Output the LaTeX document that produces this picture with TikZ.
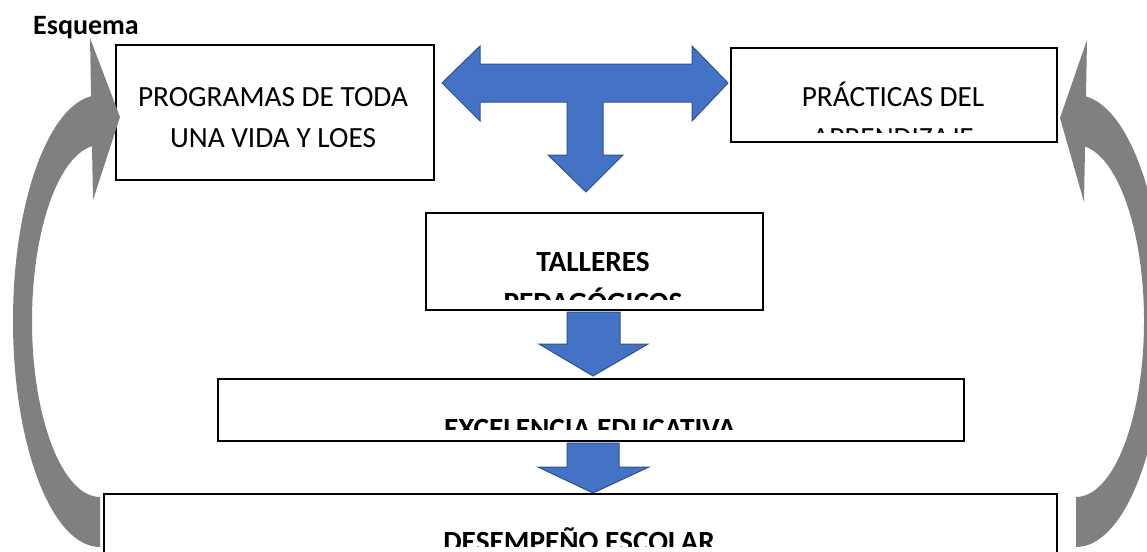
\documentclass[tikz,border=0pt]{standalone}
\usepackage{fontspec}
\setmainfont{Carlito}
\definecolor{arrowblue}{HTML}{4472C4}
\definecolor{arrowedge}{HTML}{2F528F}
\definecolor{arrowgray}{HTML}{808080}
\begin{document}
\begin{tikzpicture}[x=1pt,y=1pt,
  box/.style={draw=black, line width=1.7pt, fill=white, inner sep=0pt, anchor=north west},
  linetext/.style={font=\fontsize{29.3}{41}\selectfont, anchor=base, inner sep=0pt},
  boldtext/.style={linetext, font=\fontsize{29.3}{41}\selectfont\bfseries},
  bluearrow/.style={fill=arrowblue, draw=arrowedge, line width=1pt, line join=miter},
  grayarrow/.style={fill=arrowgray}]
\useasboundingbox (0,0) rectangle (1147,-551);
\clip (0,0) rectangle (1147,-551);

% title
\node[font=\fontsize{28}{32}\selectfont\bfseries, anchor=base west, inner sep=0pt] (title) at (33,-35) {Esquema};

% boxes
\node[box, minimum width=318, minimum height=135] (prog) at (115,-44) {};
\node[box, minimum width=326, minimum height=94] (prac) at (730,-47) {};
\node[box, minimum width=337, minimum height=97] (tall) at (425,-212) {};
\node[box, minimum width=746, minimum height=62] (exc) at (217,-378) {};
\node[box, minimum width=953, minimum height=120] (des) at (103,-493) {};

% texts
\node[linetext] (progA) at (273,-106) {PROGRAMAS DE TODA};
\node[linetext] (progB) at (273,-147) {UNA VIDA Y LOES};
\node[linetext] (pracA) at (893,-106) {PRÁCTICAS DEL};
\begin{scope}
  \clip (731,-48) rectangle (1055,-132);
  \node[linetext] (pracB) at (893,-147) {APRENDIZAJE};
\end{scope}
\node[boldtext] (tallA) at (593,-271) {TALLERES};
\begin{scope}
  \clip (426,-213) rectangle (761,-299);
  \node[boldtext] (tallB) at (593,-312) {PEDAGÓGICOS};
\end{scope}
\begin{scope}
  \clip (218,-379) rectangle (962,-429);
  \node[boldtext] (excA) at (590,-438) {EXCELENCIA EDUCATIVA};
\end{scope}
\begin{scope}
  \clip (104,-494) rectangle (1055,-546);
  \node[boldtext] (desA) at (579,-551) {DESEMPEÑO ESCOLAR};
\end{scope}

% blue T arrow
\draw[bluearrow] (442,-83) -- (480,-46) -- (480,-64) -- (692,-64) -- (692,-46) -- (728,-83)
  -- (692,-121) -- (692,-102) -- (603,-102) -- (603,-155) -- (623,-155) -- (586,-192)
  -- (548,-155) -- (567,-155) -- (567,-102) -- (480,-102) -- (480,-121) -- cycle;

% blue down arrows
\draw[bluearrow] (567,-312) -- (620,-312) -- (620,-344) -- (648,-344) -- (593,-376)
  -- (539,-344) -- (567,-344) -- cycle;
\draw[bluearrow] (567,-443) -- (619,-443) -- (619,-467) -- (649,-467) -- (593,-493)
  -- (538,-467) -- (567,-467) -- cycle;

% left gray curved arrow
\fill[grayarrow] (100,-95) arc[start angle=90, end angle=270, x radius=87, y radius=226]
  -- (100,-497) arc[start angle=270, end angle=90, x radius=68, y radius=176] -- cycle;
\fill[grayarrow] (90,-38) -- (120,-117) -- (93,-200) -- cycle;

% right gray curved arrow
\fill[grayarrow] (1076,-95) arc[start angle=90, end angle=-90, x radius=88, y radius=226]
  -- (1076,-497) arc[start angle=-90, end angle=90, x radius=68, y radius=176] -- cycle;
\fill[grayarrow] (1087,-40) -- (1060,-118) -- (1084,-202) -- cycle;
\end{tikzpicture}
\end{document}
